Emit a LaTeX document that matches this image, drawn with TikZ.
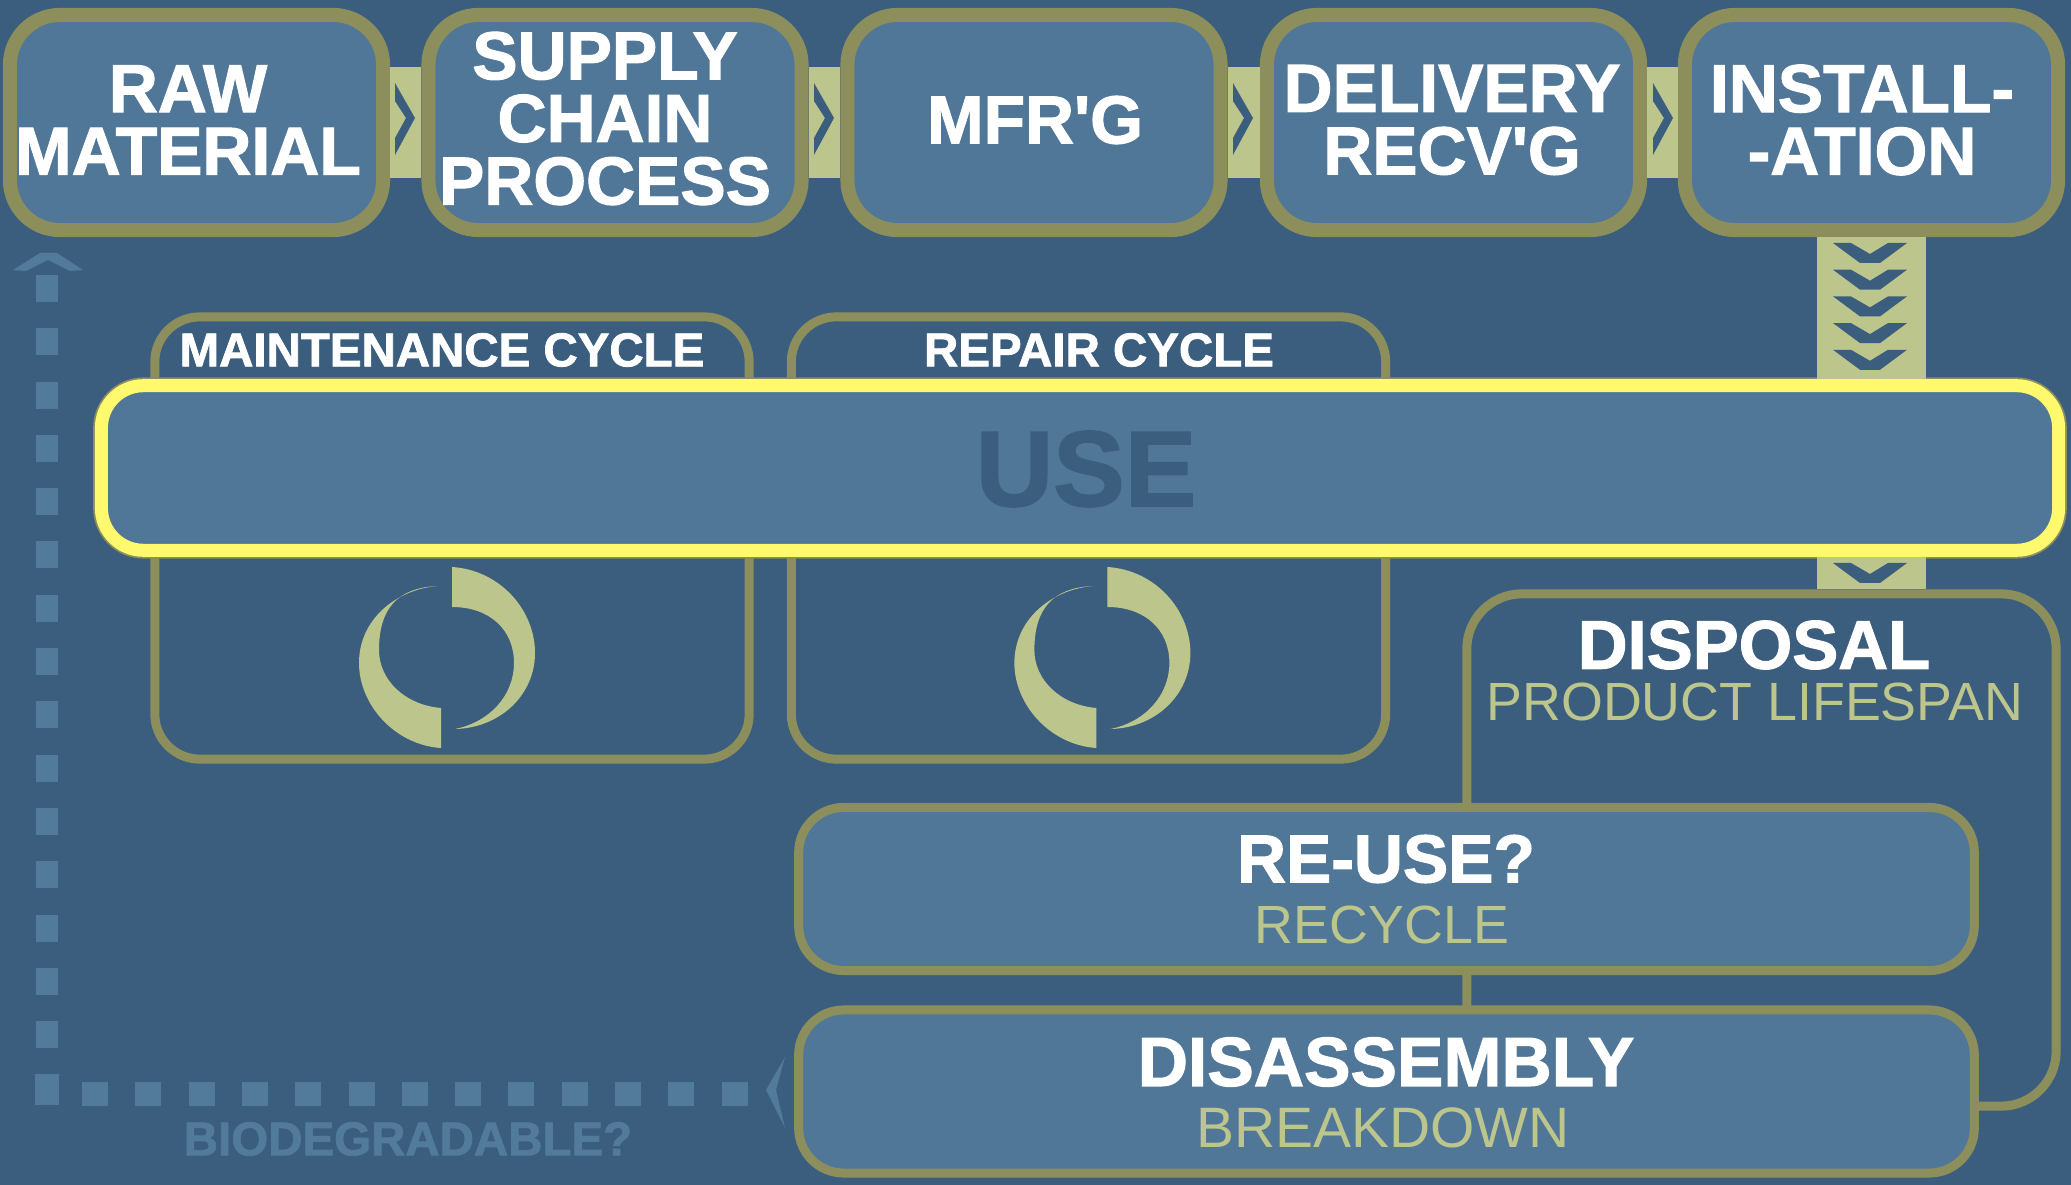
\documentclass[tikz,border=0pt]{standalone}
\usepackage{fontspec}
\setmainfont[BoldFeatures={FakeBold=1.6}]{Liberation Sans}
\definecolor{panelblue}{HTML}{3C5E7E}
\definecolor{boxblue}{HTML}{507797}
\definecolor{olive}{HTML}{8C8F5C}
\definecolor{sage}{HTML}{BCC58B}
\definecolor{useyellow}{HTML}{FFF96E}
\definecolor{ghostblue}{HTML}{527A9A}

\begin{document}
\begin{tikzpicture}[x=0.01cm,y=-0.01cm]
    \tikzstyle{stagebox}=[rectangle,rounded corners=0.5cm,draw=olive,fill=boxblue,line width=0.14cm,minimum width=3.73cm,minimum height=2.15cm]
    \tikzstyle{cyclebox}=[rectangle,rounded corners=0.45cm,draw=olive,line width=0.09cm,minimum width=5.94cm,minimum height=4.42cm]
    \tikzstyle{stepbox}=[rectangle,rounded corners=0.45cm,draw=olive,fill=boxblue,line width=0.09cm,minimum width=11.75cm,minimum height=1.63cm]
    \tikzstyle{bigtext}=[text=white,align=center,inner sep=0pt,font=\bfseries\fontsize{19.3}{17.8}\selectfont]
    \tikzstyle{cycletext}=[text=white,inner sep=0pt,font=\bfseries\fontsize{13.5}{15}\selectfont]
    \tikzstyle{subtext}=[text=sage,inner sep=0pt,font=\fontsize{15.3}{16}\selectfont]
    \tikzstyle{linkbar}=[draw=sage,line width=1.1cm]
    \tikzstyle{downbar}=[draw=sage,line width=1.09cm]

    \fill[panelblue] (0,0) rectangle (2071,1185);
    \useasboundingbox (0,0) rectangle (2071,1185);

    \foreach \k in {0,...,14} {
        \fill[ghostblue] (36,275+53.3*\k) rectangle (58,302+53.3*\k);
    }
    \fill[ghostblue] (35,1074) rectangle (59,1105);
    \foreach \k in {0,...,12} {
        \fill[ghostblue] (82+53.3*\k,1082) rectangle (108+53.3*\k,1106);
    }
    \fill[ghostblue] (13,270) -- (40,253) -- (57,253) -- (83,270) -- (70,271) -- (48,260) -- (26,271) -- cycle;
    \fill[ghostblue] (785,1057) -- (766,1090) -- (785,1128) -- (776,1090) -- cycle;
    \node (biodegradable)[cycletext,text=ghostblue,font=\bfseries\fontsize{13.5}{15}\selectfont] at (408,1139) {BIODEGRADABLE?};

    \node (raw)[stagebox] at (196.5,122.5) {};
    \node (supply)[stagebox] at (615,122.5) {};
    \node (mfrg)[stagebox] at (1034,122.5) {};
    \node (delivery)[stagebox] at (1453.5,122.5) {};
    \node (install)[stagebox] at (1871.5,122.5) {};

    \draw[linkbar] (raw) -- (supply);
    \draw[linkbar] (supply) -- (mfrg);
    \draw[linkbar] (mfrg) -- (delivery);
    \draw[linkbar] (delivery) -- (install);

    \foreach \cx in {395,814,1233,1653} {
        \fill[panelblue] (\cx,83) -- (\cx+20,118) -- (\cx,155) -- (\cx,138) -- (\cx+11,118) -- (\cx,101) -- cycle;
    }

    \node (rawtext)[bigtext] at (188,120) {RAW\\MATERIAL};
    \node (supplytext)[bigtext] at (605,118.5) {SUPPLY\\CHAIN\\PROCESS};
    \node (mfrgtext)[bigtext] at (1035,120) {MFR\textquotesingle G};
    \node (deliverytext)[bigtext] at (1452,120) {DELIVERY\\RECV\textquotesingle G};
    \node (installtext)[bigtext] at (1862,120) {INSTALL-\\-ATION};

    \node (maintenance)[cyclebox] at (452,538) {};
    \node (repair)[cyclebox] at (1088.5,538) {};
    \node (maintenancetext)[cycletext] at (442,350) {MAINTENANCE CYCLE};
    \node (repairtext)[cycletext] at (1099,350) {REPAIR CYCLE};

    \foreach \cx in {0,6.55} {
        \begin{scope}[xshift=\cx cm]
            \fill[sage] (437,586) .. controls (395,590) and (359,620) .. (359,663) .. controls (359,705) and (395,745) .. (441,748) -- (441,708) .. controls (405,705) and (379,680) .. (379,650) .. controls (379,608) and (398,588) .. (437,586) -- cycle;
            \fill[sage] (452,567) .. controls (500,570) and (535,610) .. (535,653) .. controls (535,695) and (500,728) .. (455,729) .. controls (490,722) and (514,695) .. (514,663) .. controls (514,630) and (490,607) .. (452,607) -- cycle;
        \end{scope}
    }

    \node (disposal)[cyclebox,minimum width=5.89cm,minimum height=5.12cm,rounded corners=0.55cm] at (1761.5,850) {};
    \node (disposaltext)[bigtext,font=\bfseries\fontsize{19.6}{20}\selectfont] at (1754,645) {DISPOSAL};
    \node (lifespantext)[subtext] at (1755,702) {PRODUCT LIFESPAN};

    \node (use)[rectangle,rounded corners=0.42cm,preaction={draw=olive,line width=0.165cm},draw=useyellow,fill=boxblue,line width=0.13cm,minimum width=19.56cm,minimum height=1.645cm] at (1080,468) {};
    \node (usetext)[bigtext,text=panelblue,font=\bfseries\fontsize{30.5}{32}\selectfont] at (1086,469) {USE};

    \draw[downbar] (install.south) -- (install.south |- use.north);
    \draw[downbar] (install.south |- use.south) -- (install.south |- disposal.north);
    \foreach \cy in {243,269.7,296.4,323.1,349.8,563} {
        \fill[panelblue] (1833,\cy) -- (1851,\cy) -- (1870,\cy+11) -- (1888,\cy) -- (1907,\cy) -- (1880,\cy+20) -- (1860,\cy+20) -- cycle;
    }

    \node (reuse)[stepbox] at (1386.5,889) {};
    \node (disassembly)[stepbox] at (1386.5,1091.5) {};
    \node (reusetext)[bigtext,font=\bfseries\fontsize{19.3}{20}\selectfont] at (1386,859) {RE-USE?};
    \node (recycletext)[subtext] at (1382,925) {RECYCLE};
    \node (disassemblytext)[bigtext,font=\bfseries\fontsize{19.8}{20}\selectfont] at (1386,1062) {DISASSEMBLY};
    \node (breakdowntext)[subtext,font=\fontsize{16.2}{17}\selectfont] at (1383,1128) {BREAKDOWN};
\end{tikzpicture}
\end{document}
